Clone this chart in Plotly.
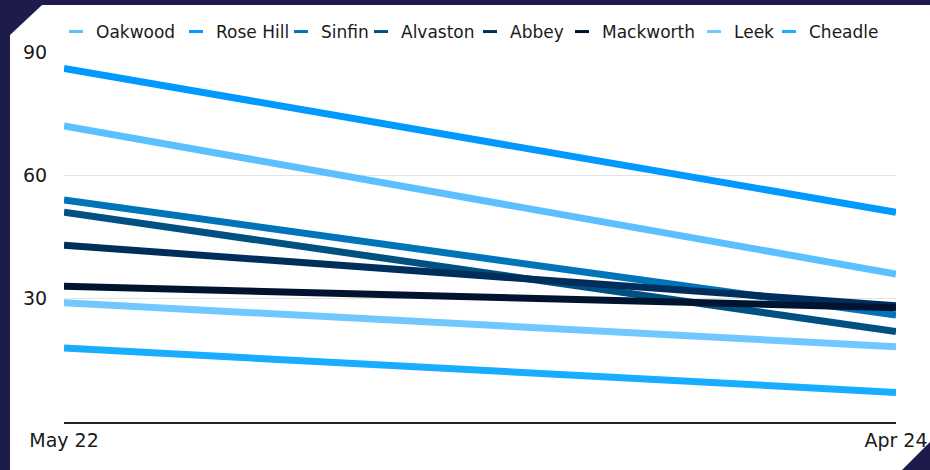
import plotly.graph_objects as go

categories = ["May 22", "Apr 24"]
series_names = ["Oakwood", "Rose Hill", "Sinfin", "Alvaston", "Abbey", "Mackworth", "Leek", "Cheadle"]
oakwood = [72, 36]
rose_hill = [86, 51]
sinfin = [54, 26]
alvaston = [51, 22]
abbey = [43, 28.3]
mackworth = [33, 27.8]
leek = [29, 18.3]
cheadle = [18, 7.2]
y_ticks = [30, 60, 90]

values = [oakwood, rose_hill, sinfin, alvaston, abbey, mackworth, leek, cheadle]
colors = ["#5cc0ff", "#0099ff", "#0074b8", "#005082", "#002e5c", "#00142f", "#70c8ff", "#18adff"]
legend_text_x = [97, 217, 322, 402, 511, 603, 735, 810]

W, H = 930, 470
ml, mr, mt, mb = 64, 34, 52, 48
pw, ph = W - ml - mr, H - mt - mb

def px(x):
    return (x - ml) / pw

def py(y):
    return (H - mb - y) / ph

fig = go.Figure()
for name, vals, col in zip(series_names, values, colors):
    fig.add_trace(go.Scatter(x=categories, y=vals, mode="lines", name=name,
                             line=dict(color=col, width=7), showlegend=False,
                             hoverinfo="skip"))

legend_layouts = {}
for i, (name, col, tx) in enumerate(zip(series_names, colors, legend_text_x)):
    key = "legend" if i == 0 else f"legend{i + 1}"
    fig.add_trace(go.Scatter(x=[None], y=[None], mode="markers", name=name,
                             marker=dict(symbol="line-ew-open", size=10, color=col,
                                         line=dict(color=col, width=3)),
                             showlegend=True, legend=key))
    legend_layouts[key] = dict(orientation="h", x=px(tx - 41), xanchor="left",
                               y=py(32), yanchor="middle",
                               font=dict(size=17, color="#1a1a1a"),
                               bgcolor="rgba(0,0,0,0)")

card = [(10, 35), (42, 5), (930, 5), (930, 442), (902, 470), (10, 470)]
path = "M " + " L ".join(f"{px(x):.5f},{py(y):.5f}" for x, y in card) + " Z"

fig.update_layout(
    width=W, height=H,
    margin=dict(l=ml, r=mr, t=mt, b=mb, autoexpand=False),
    paper_bgcolor="#1c1b4b",
    plot_bgcolor="white",
    font=dict(family="DejaVu Sans, sans-serif", size=18, color="#1a1a1a"),
    shapes=[dict(type="path", xref="paper", yref="paper", path=path,
                 fillcolor="white", line=dict(width=0), layer="below")],
    xaxis=dict(type="category", range=[0, 1], showgrid=False, showline=True,
               linecolor="#222", linewidth=2, ticks="", tickfont=dict(size=19),
               fixedrange=True, automargin=False),
    yaxis=dict(range=[0, 90], tickvals=y_ticks, showgrid=True, gridcolor="#e3e3e3",
               gridwidth=1, zeroline=False, showline=False, ticks="outside",
               ticklen=12, tickcolor="rgba(0,0,0,0)", tickfont=dict(size=19),
               automargin=False),
    showlegend=True,
    **legend_layouts,
)

fig.write_html("out.html")
